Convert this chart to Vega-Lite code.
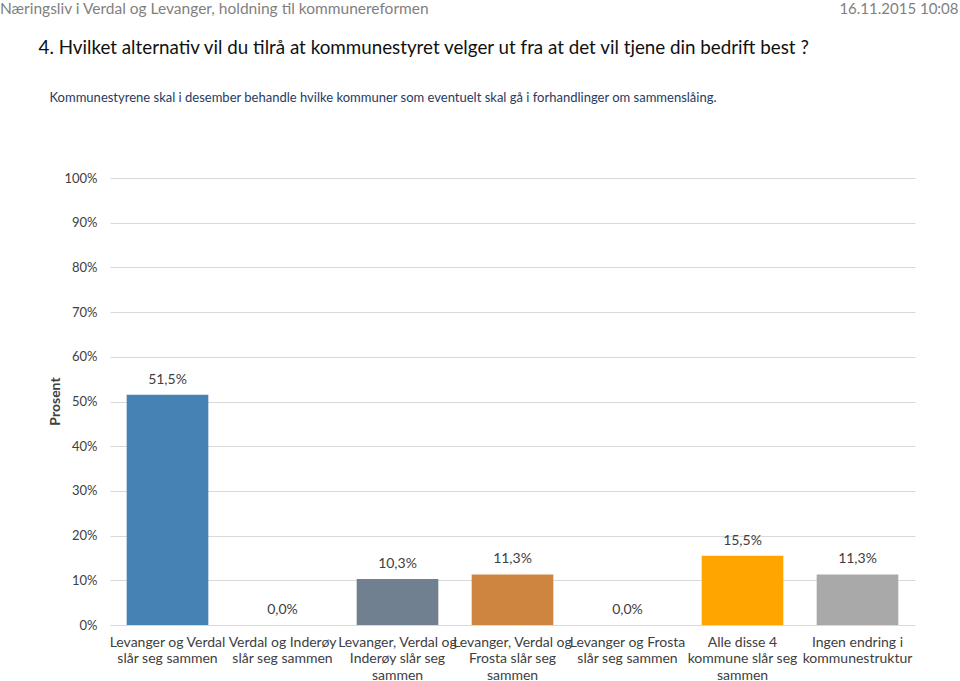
{
  "$schema": "https://vega.github.io/schema/vega-lite/v6.json",
  "autosize": {"type": "none"},
  "width": 805,
  "height": 447,
  "padding": {"left": 110, "top": 178, "right": 45, "bottom": 56},
  "background": "white",
  "config": {
    "view": {"stroke": null},
    "font": "Lato",
    "locale": {"number": {"decimal": ",", "thousands": " ", "grouping": [3], "currency": ["", " kr"]}}
  },
  "title": {
    "text": "Næringsliv i Verdal og Levanger, holdning til kommunereformen",
    "anchor": "start",
    "frame": "group",
    "dx": -110,
    "font": "Lato",
    "fontSize": 15.5,
    "fontWeight": "normal",
    "color": "#7f7f7f",
    "offset": -16
  },
  "data": {
    "values": [
      {"alternativ": "Levanger og Verdal\nslår seg sammen", "andel": 0.515, "farge": "#4682B4"},
      {"alternativ": "Verdal og Inderøy\nslår seg sammen", "andel": 0.0, "farge": "#6F9ED3"},
      {"alternativ": "Levanger, Verdal og\nInderøy slår seg\nsammen", "andel": 0.103, "farge": "#708090"},
      {"alternativ": "Levanger, Verdal og\nFrosta slår seg\nsammen", "andel": 0.113, "farge": "#CD853F"},
      {"alternativ": "Levanger og Frosta\nslår seg sammen", "andel": 0.0, "farge": "#9ACD32"},
      {"alternativ": "Alle disse 4\nkommune slår seg\nsammen", "andel": 0.155, "farge": "#FFA500"},
      {"alternativ": "Ingen endring i\nkommunestruktur", "andel": 0.113, "farge": "#A9A9A9"}
    ]
  },
  "encoding": {
    "x": {
      "field": "alternativ",
      "type": "nominal",
      "sort": null,
      "scale": {"paddingInner": 0.29, "paddingOuter": 0.145},
      "axis": {
        "title": "Kommunestyrene skal i desember behandle hvilke kommuner som eventuelt skal gå i forhandlinger om sammenslåing.",
        "titleFont": "Lato",
        "titleFontSize": 13,
        "titleFontWeight": "normal",
        "titleColor": "#1f3b63",
        "titleAnchor": "start",
        "titleAlign": "left",
        "titleBaseline": "middle",
        "titleX": -61,
        "titleY": -528,
        "labelAngle": 0,
        "labelExpr": "split(datum.value, '\\n')",
        "labelFontSize": 14,
        "labelLineHeight": 16.5,
        "labelColor": "#404040",
        "labelPadding": 10,
        "labelLimit": 200,
        "ticks": false,
        "domain": false
      }
    },
    "y": {
      "field": "andel",
      "type": "quantitative",
      "scale": {"domain": [0, 1]},
      "axis": {
        "title": "Prosent",
        "titleFontSize": 14,
        "titleFontWeight": "bold",
        "titleColor": "#404040",
        "titleX": -55,
        "titleY": 223,
        "titleBaseline": "middle",
        "titleAlign": "center",
        "titleAngle": -90,
        "format": ".0%",
        "values": [0, 0.1, 0.2, 0.3, 0.4, 0.5, 0.6, 0.7, 0.8, 0.9, 1],
        "labelOverlap": false,
        "labelFontSize": 13,
        "labelColor": "#404040",
        "labelPadding": 13,
        "ticks": false,
        "domain": false,
        "grid": true,
        "gridColor": "#d9d9d9",
        "gridWidth": 1
      }
    }
  },
  "layer": [
    {
      "mark": {"type": "bar"},
      "encoding": {
        "color": {"field": "farge", "type": "nominal", "scale": null, "legend": null}
      }
    },
    {
      "mark": {"type": "text", "baseline": "middle", "dy": -15, "fontSize": 14, "color": "#404040"},
      "encoding": {
        "text": {"field": "andel", "type": "quantitative", "format": ".1%"},
        "x": {
          "field": "alternativ",
          "type": "nominal",
          "sort": null,
          "axis": {
            "orient": "top",
            "title": "4. Hvilket alternativ vil du tilrå at kommunestyret velger ut fra at det vil tjene din bedrift best ?",
            "titleFont": "Lato",
            "titleFontSize": 18.8,
            "titleFontWeight": "normal",
            "titleColor": "#111111",
            "titleAnchor": "start",
            "titleAlign": "left",
            "titleBaseline": "middle",
            "titleX": -72,
            "titleY": -131,
            "labels": false,
            "ticks": false,
            "domain": false,
            "grid": false
          }
        },
        "y": {
          "field": "andel",
          "type": "quantitative",
          "axis": {
            "orient": "right",
            "title": "16.11.2015 10:08",
            "titleFont": "Lato",
            "titleFontSize": 15,
            "titleFontWeight": "normal",
            "titleColor": "#7f7f7f",
            "titleAngle": 0,
            "titleAlign": "right",
            "titleBaseline": "middle",
            "titleX": 43,
            "titleY": -170,
            "labels": false,
            "ticks": false,
            "domain": false,
            "grid": false
          }
        }
      }
    }
  ],
  "resolve": {"axis": {"x": "independent", "y": "independent"}}
}
